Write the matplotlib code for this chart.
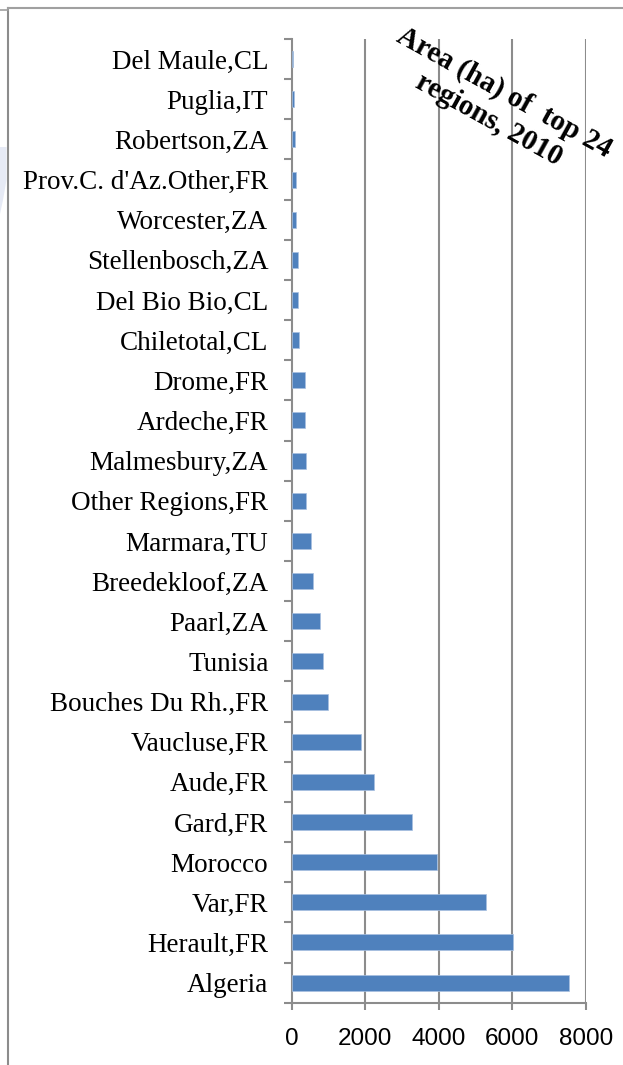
import numpy as np
import matplotlib
matplotlib.use("Agg")
import matplotlib.pyplot as plt
from matplotlib.lines import Line2D
from matplotlib.patches import Polygon

# regions listed bottom to top, as drawn
regions = ["Algeria", "Herault,FR", "Var,FR", "Morocco", "Gard,FR", "Aude,FR",
           "Vaucluse,FR", "Bouches Du Rh.,FR", "Tunisia", "Paarl,ZA",
           "Breedekloof,ZA", "Marmara,TU", "Other Regions,FR", "Malmesbury,ZA",
           "Ardeche,FR", "Drome,FR", "Chiletotal,CL", "Del Bio Bio,CL",
           "Stellenbosch,ZA", "Worcester,ZA", "Prov.C. d'Az.Other,FR",
           "Robertson,ZA", "Puglia,IT", "Del Maule,CL"]
area_ha = [7550, 6010, 5280, 3945, 3270, 2225, 1870, 980, 845, 770,
           565, 510, 390, 375, 365, 355, 200, 155, 155, 100, 100, 90, 50, 40]
xticks = [0, 2000, 4000, 6000, 8000]
title = "Area (ha) of  top 24\nregions, 2010"

W, H = 623, 1065
fig = plt.figure(figsize=(W / 100, H / 100), dpi=100)
ax = fig.add_axes([292 / W, 1 - 1002.7 / H, (585.7 - 292) / W, (1002.7 - 39) / H])

grey = "#8c8c8c"
y = np.arange(len(regions))
ax.barh(y, area_ha, height=0.4, color="#4f81bd", edgecolor="#a8c0e0", linewidth=0.5, zorder=3)

ax.set_xlim(0, 8000)
ax.set_ylim(-0.5, len(regions) - 0.5)
ax.set_xticks(xticks)
ax.set_xticklabels([str(t) for t in xticks], fontfamily="Liberation Sans", fontsize=17.5)
ax.set_yticks(y)
ax.set_yticklabels(regions, fontfamily="Liberation Serif", fontsize=19.5)
ax.tick_params(axis="y", length=0, pad=17)
ax.tick_params(axis="x", length=5, width=1.5, color=grey, pad=13)
# category boundary ticks on the value axis
ax.set_yticks(np.arange(-0.5, len(regions), 1.0), minor=True)
ax.tick_params(axis="y", which="minor", length=6, width=1.5, color=grey)

for v in xticks[1:]:
    ax.axvline(v, color=grey, linewidth=1.5, zorder=1)
for s in ["top", "right"]:
    ax.spines[s].set_visible(False)
for s in ["left", "bottom"]:
    ax.spines[s].set_color(grey)
    ax.spines[s].set_linewidth(1.5)

fig.text(497 / W, 1 - 106 / H, title, rotation=-29, rotation_mode="anchor",
         ha="center", va="center", multialignment="center",
         fontfamily="Liberation Serif", fontweight="bold", fontsize=21,
         linespacing=1.2)

# outer frame and faint shape at the left edge
fig.add_artist(Line2D([7.5 / W, 7.5 / W], [0, 1 - 8 / H], color=grey, lw=1.5,
                      transform=fig.transFigure))
fig.add_artist(Line2D([7.5 / W, 1], [1 - 8 / H, 1 - 8 / H], color="#a0a0a0", lw=1.5,
                      transform=fig.transFigure))
fig.add_artist(Line2D([0, 7.5 / W], [1 - 10 / H, 1 - 10 / H], color="#a0a0a0", lw=1.2,
                      transform=fig.transFigure))
shape = [(0, 147), (6.5, 147), (6.5, 180), (3, 200), (0, 214)]
fig.add_artist(Polygon([(px / W, 1 - py / H) for px, py in shape], closed=True,
                       facecolor="#e6eaf5", edgecolor="none", transform=fig.transFigure))

fig.savefig("out.png", dpi=100)
